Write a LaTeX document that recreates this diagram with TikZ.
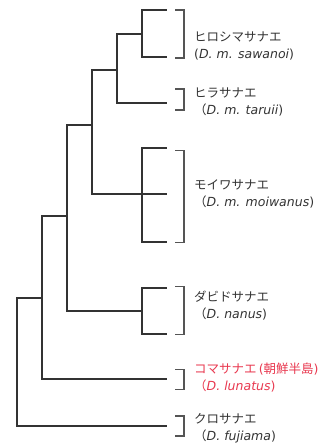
\documentclass[tikz,border=0pt]{standalone}
\usepackage{fontspec}
\setmainfont{Noto Sans CJK JP}
\newfontfamily\sciname{DejaVu Sans}
\usetikzlibrary{positioning}
\definecolor{treegray}{HTML}{333333}
\definecolor{brgray}{HTML}{555555}
\definecolor{komared}{HTML}{E8384F}
\newcommand{\spname}[1]{{\sciname\itshape #1}}
\newcommand{\lp}{{\sciname(}}
\newcommand{\rp}{{\sciname)}}

\begin{document}
\begin{tikzpicture}[x=1pt,y=-1pt,
  branch/.style={line width=1.4pt, draw=treegray},
  bracket/.style={line width=1.1pt, draw=brgray},
  lbl/.style={anchor=west, align=left, inner sep=0pt, text=treegray,
    font=\fontsize{12.5}{17}\selectfont}]
\useasboundingbox (0,0) rectangle (326,444);

% leaves
\coordinate (hiro1) at (167,10);
\coordinate (hiro2) at (167,57);
\coordinate (hira) at (167,103);
\coordinate (moi1) at (167,148);
\coordinate (moi2) at (167,194);
\coordinate (moi3) at (167,242);
\coordinate (dab1) at (167,288);
\coordinate (dab2) at (167,334);
\coordinate (koma) at (167,379);
\coordinate (kuro) at (167,426);

% inner nodes
\coordinate (n1) at (142,34);
\coordinate (n2) at (117,70);
\coordinate (n3) at (142,194);
\coordinate (n4) at (92,125);
\coordinate (n5) at (142,311);
\coordinate (n6) at (67,216);
\coordinate (n7) at (42,298);
\coordinate (root) at (17,362);

\draw[branch] (n1) |- (hiro1);
\draw[branch] (n1) |- (hiro2);
\draw[branch] (n2) |- (n1);
\draw[branch] (n2) |- (hira);
\draw[branch] (n3) |- (moi1);
\draw[branch] (n3) -- (moi2);
\draw[branch] (n3) |- (moi3);
\draw[branch] (n4) |- (n2);
\draw[branch] (n4) |- (n3);
\draw[branch] (n5) |- (dab1);
\draw[branch] (n5) |- (dab2);
\draw[branch] (n6) |- (n4);
\draw[branch] (n6) |- (n5);
\draw[branch] (n7) |- (n6);
\draw[branch] (n7) |- (koma);
\draw[branch] (root) |- (n7);
\draw[branch] (root) |- (kuro);

% brackets
\draw[bracket] (175,10) -| (184,58) -- (175,58);
\draw[bracket] (175,89) -| (184,110) -- (175,110);
\draw[bracket] (175,150.5) -| (184,242.5) -- (175,242.5);
\draw[bracket] (175,286.5) -| (184,334.5) -- (175,334.5);
\draw[bracket] (175,369.5) -| (184,389.5) -- (175,389.5);
\draw[bracket] (175,416) -| (184,436) -- (175,436);

% labels
\node[lbl] (lhiro) at (194,45.5) {ヒロシマサナエ\\\lp\spname{D. m. sawanoi}\rp};
\node[lbl] (lhira) at (194,101.5) {ヒラサナエ\\（\spname{D. m. taruii}\rp};
\node[lbl] (lmoi) at (194,193.5) {モイワサナエ\\（\spname{D. m. moiwanus}\rp};
\node[lbl] (ldab) at (194,305.5) {ダビドサナエ\\（\spname{D. nanus}\rp};
\node[lbl, text=komared] (lkoma) at (194,378) {コマサナエ\,\lp 朝鮮半島\rp\\（\spname{D. lunatus}\rp};
\node[lbl] (lkuro) at (194,428) {クロサナエ\\（\spname{D. fujiama}\rp};
\end{tikzpicture}
\end{document}
